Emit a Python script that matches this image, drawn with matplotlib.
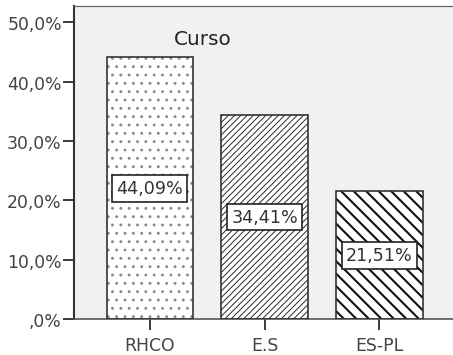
import matplotlib.pyplot as plt

plt.rcParams.update({
    'font.family': 'DejaVu Sans',
    'font.size': 8.3,
    'hatch.linewidth': 0.5,
})

cursos = ['RHCO', 'E.S', 'ES-PL']
porcentajes = [44.09, 34.41, 21.51]
etiquetas = ['44,09%', '34,41%', '21,51%']
yticks = [0, 10, 20, 30, 40, 50]
ytick_labels = [',0%', '10,0%', '20,0%', '30,0%', '40,0%', '50,0%']

hatches = ['...', '////////', '\\\\\\\\']
hatch_colors = ['#8a8a8a', '#222222', '#111111']
hatch_widths = [0.6, 0.45, 1.0]

fig = plt.figure(figsize=(3.02, 2.3733), dpi=150)
ax = fig.add_axes([0.163, 0.101, 0.837, 0.879])
ax.set_facecolor('#f1f1f1')

x = list(range(len(cursos)))

# hatch fill, then a plain outline on top
for i in x:
    b = ax.bar(x[i], porcentajes[i], width=0.75, color='white',
               edgecolor=hatch_colors[i], linewidth=0, hatch=hatches[i], zorder=2)
    for p in b:
        if hasattr(p, 'set_hatch_linewidth'):
            p.set_hatch_linewidth(hatch_widths[i])
ax.bar(x, porcentajes, width=0.75, facecolor='none', edgecolor='#333333',
       linewidth=0.8, zorder=3)

for i in x:
    ax.text(x[i], porcentajes[i] / 2, etiquetas[i], ha='center', va='center',
            fontsize=8.4, color='#333333', zorder=4,
            bbox=dict(boxstyle='square,pad=0.25', facecolor='white',
                      edgecolor='#222222', linewidth=0.8))

ax.text(0.34, 0.897, 'Curso', transform=ax.transAxes, ha='center', va='center',
        fontsize=9.6, color='#222222')

ax.set_xlim(-0.66, 2.64)
ax.set_ylim(0, 52.7)
ax.set_xticks(x)
ax.set_xticklabels(cursos)
ax.set_yticks(yticks)
ax.set_yticklabels(ytick_labels)
ax.tick_params(axis='both', colors='#333333', labelcolor='#444444', width=0.9)
ax.tick_params(axis='y', length=5.3, pad=0.5)
ax.tick_params(axis='x', length=5.5, pad=2.5)

ax.spines['left'].set_color('#333333')
ax.spines['left'].set_linewidth(1.0)
ax.spines['bottom'].set_color('#555555')
ax.spines['bottom'].set_linewidth(0.8)
ax.spines['top'].set_color('#666666')
ax.spines['top'].set_linewidth(0.6)
ax.spines['right'].set_visible(False)

fig.savefig('out.png', dpi=150, facecolor='white')
